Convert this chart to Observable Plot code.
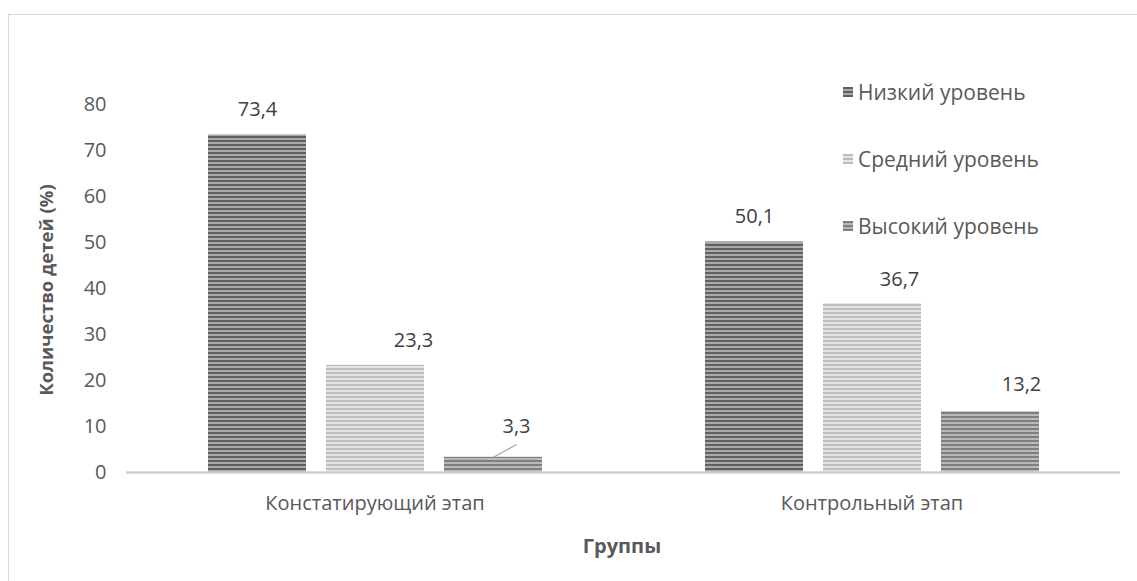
<!DOCTYPE html>
<html>
<head>
<meta charset="utf-8">
<script src="https://cdn.jsdelivr.net/npm/d3@7"></script>
<script src="https://cdn.jsdelivr.net/npm/@observablehq/plot@0.6"></script>
<style>
  html, body { margin: 0; padding: 0; background: #fff; }
  #wrap { position: relative; width: 1137px; height: 581px; overflow: hidden; font-family: "Open Sans", sans-serif; }
  #border { position: absolute; left: 8px; top: 14px; right: -2px; bottom: -2px; border-left: 1px solid #d9d9d9; border-top: 1px solid #d9d9d9; }
  #chart { position: absolute; left: 0; top: 0; }
  .legend-item { position: absolute; display: flex; align-items: center; font-size: 21px; color: #595959; white-space: nowrap; }
  .sw { width: 10px; height: 10px; margin-right: 5px; }
  .title { position: absolute; font-weight: bold; color: #595959; white-space: nowrap; }
</style>
</head>
<body>
<div id="wrap">
  <div id="border"></div>
  <div id="chart"></div>
</div>
<script>
// ---- data ----
const groups = ["Констатирующий этап", "Контрольный этап"];
const levels = ["Низкий уровень", "Средний уровень", "Высокий уровень"];
const valuesConst = [73.4, 23.3, 3.3];
const valuesControl = [50.1, 36.7, 13.2];
const yTicks = [0, 10, 20, 30, 40, 50, 60, 70, 80];
const yTitle = "Количество детей (%)";
const xTitle = "Группы";

const data = [];
levels.forEach((l, i) => data.push({group: groups[0], level: l, value: valuesConst[i]}));
levels.forEach((l, i) => data.push({group: groups[1], level: l, value: valuesControl[i]}));

// ---- styling ----
const stripes = [
  {id: "pLow", a: "#5f5f5f", b: "#a9a9a9"},
  {id: "pMid", a: "#bdbdbd", b: "#e4e4e4"},
  {id: "pHigh", a: "#7f7f7f", b: "#b9b9b9"}
];
// manual label nudges (as in the original chart), keyed by group|level
const labelNudge = {
  [groups[0] + "|" + levels[0]]: [0, -25],
  [groups[0] + "|" + levels[1]]: [38, -25],
  [groups[0] + "|" + levels[2]]: [23, -31],
  [groups[1] + "|" + levels[0]]: [0, -25],
  [groups[1] + "|" + levels[1]]: [27, -24],
  [groups[1] + "|" + levels[2]]: [31, -27]
};
const fmt = v => d3.format(".1f")(v).replace(".", ",");

const labelMarks = data.map(d => {
  const [dx, dy] = labelNudge[d.group + "|" + d.level];
  return Plot.text([d], {
    fx: "group", x: "level", y: "value", text: r => fmt(r.value),
    dx, dy, fontSize: 20, fill: "#404040", lineAnchor: "middle"
  });
});

const plot = Plot.plot({
  width: 1137,
  height: 581,
  marginLeft: 125,
  marginRight: 17,
  marginTop: 104,
  marginBottom: 109,
  style: {fontFamily: "Open Sans, sans-serif", fontSize: "20px", color: "#595959", background: "transparent"},
  fx: {domain: groups, padding: 0, label: null, axis: "bottom", tickSize: 0, tickPadding: 23},
  x: {domain: levels, paddingInner: 0.17, paddingOuter: 0.69, axis: null},
  y: {domain: [0, 80], ticks: yTicks, tickSize: 0, tickPadding: 20, label: null, tickFormat: d => String(d)},
  color: {domain: levels, range: stripes.map(s => `url(#${s.id})`)},
  marks: [
    Plot.barY(data, {fx: "group", x: "level", y: "value", fill: "level"}),
    Plot.ruleY([0], {stroke: "#d0d0d0", strokeWidth: 2.5}),
    Plot.vector(data.filter(d => d.value < 5), {
      fx: "group", x: "level", y: "value", length: 26, rotate: 61, anchor: "start",
      stroke: "#a6a6a6", strokeWidth: 1.2,
      shape: {draw(ctx, l) { ctx.moveTo(0, 0); ctx.lineTo(0, -l); }}
    }),
    ...labelMarks
  ]
});

// pattern definitions
const ns = "http://www.w3.org/2000/svg";
const defs = document.createElementNS(ns, "defs");
stripes.forEach(s => {
  const p = document.createElementNS(ns, "pattern");
  p.setAttribute("id", s.id);
  p.setAttribute("patternUnits", "userSpaceOnUse");
  p.setAttribute("width", "8");
  p.setAttribute("height", "4");
  const r1 = document.createElementNS(ns, "rect");
  r1.setAttribute("width", "8"); r1.setAttribute("height", "4"); r1.setAttribute("fill", s.b);
  const r2 = document.createElementNS(ns, "rect");
  r2.setAttribute("width", "8"); r2.setAttribute("height", "2"); r2.setAttribute("fill", s.a);
  p.appendChild(r1); p.appendChild(r2);
  defs.appendChild(p);
});
plot.insertBefore(defs, plot.firstChild);
document.getElementById("chart").appendChild(plot);

// legend
const wrap = document.getElementById("wrap");
const legendY = [93, 160, 227];
levels.forEach((l, i) => {
  const s = stripes[i];
  const div = document.createElement("div");
  div.className = "legend-item";
  div.style.left = "843px";
  div.style.top = (legendY[i] - 15) + "px";
  div.innerHTML = `<span class="sw" style="background: repeating-linear-gradient(to bottom, ${s.a} 0 2px, ${s.b} 2px 4px);"></span><span>${l}</span>`;
  wrap.appendChild(div);
});

// axis titles
const xt = document.createElement("div");
xt.className = "title";
xt.textContent = xTitle;
xt.style.fontSize = "20px";
xt.style.left = "622px"; xt.style.top = "545px";
xt.style.transform = "translate(-50%, -50%)";
wrap.appendChild(xt);
const yt = document.createElement("div");
yt.className = "title";
yt.textContent = yTitle;
yt.style.fontSize = "18.5px";
yt.style.left = "45px"; yt.style.top = "290px";
yt.style.transform = "translate(-50%, -50%) rotate(-90deg)";
wrap.appendChild(yt);
</script>
</body>
</html>
